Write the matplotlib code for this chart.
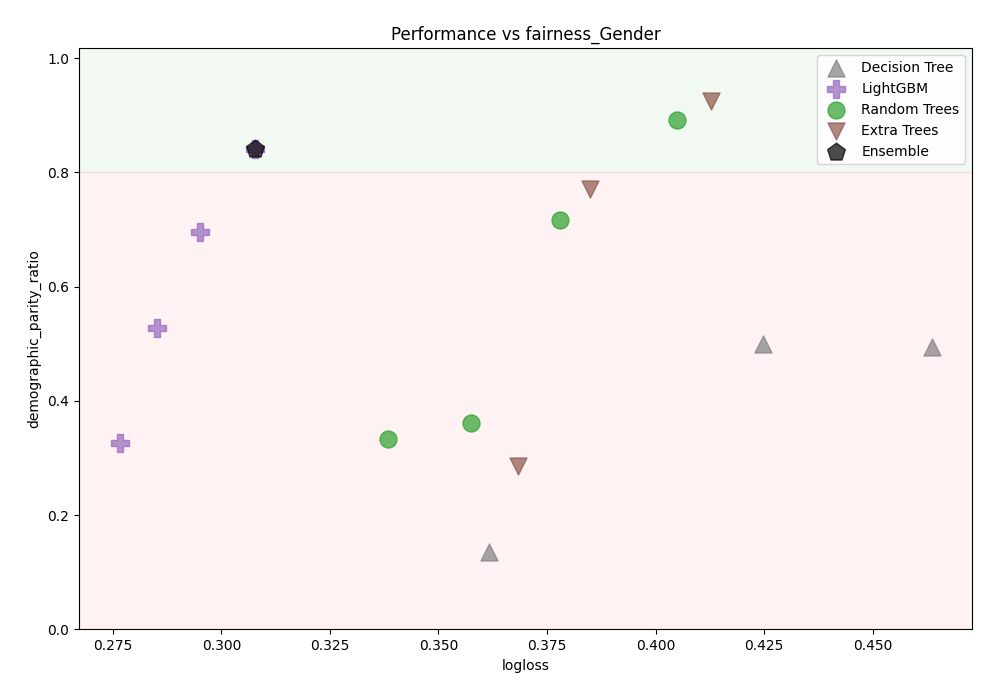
import matplotlib
matplotlib.use("Agg")
import matplotlib.pyplot as plt

# logloss / demographic_parity_ratio per model
dt_x = [0.3616, 0.4248, 0.4637]
dt_y = [0.135, 0.500, 0.495]

lgbm_x = [0.2766, 0.2851, 0.2950, 0.3077]
lgbm_y = [0.326, 0.527, 0.695, 0.841]

rt_x = [0.3384, 0.3575, 0.3780, 0.4050]
rt_y = [0.333, 0.361, 0.716, 0.892]

et_x = [0.3683, 0.3849, 0.4128]
et_y = [0.286, 0.771, 0.925]

ens_x = [0.3077]
ens_y = [0.841]

threshold = 0.8

fig, ax = plt.subplots(figsize=(10, 7), dpi=100)

ax.axhspan(threshold, 1.1, color='green', alpha=0.05)
ax.axhspan(0, threshold, color='red', alpha=0.05)

ax.scatter(dt_x, dt_y, marker='^', s=150, color='gray', alpha=0.7, label='Decision Tree')
ax.scatter(lgbm_x, lgbm_y, marker='P', s=150, color='tab:purple', alpha=0.7, label='LightGBM')
ax.scatter(rt_x, rt_y, marker='o', s=150, color='tab:green', alpha=0.7, label='Random Trees')
ax.scatter(et_x, et_y, marker='v', s=150, color='tab:brown', alpha=0.7, label='Extra Trees')
ax.scatter(ens_x, ens_y, marker='p', s=180, color='black', alpha=0.7, label='Ensemble')

ax.set_xlim(0.2672, 0.4729)
ax.set_ylim(0, 1.0175)
ax.set_xlabel('logloss')
ax.set_ylabel('demographic_parity_ratio')
ax.set_title('Performance vs fairness_Gender')
ax.legend(loc='upper right')

plt.subplots_adjust(left=0.079, right=0.972, bottom=0.101, top=0.931)
plt.savefig('out.png')
